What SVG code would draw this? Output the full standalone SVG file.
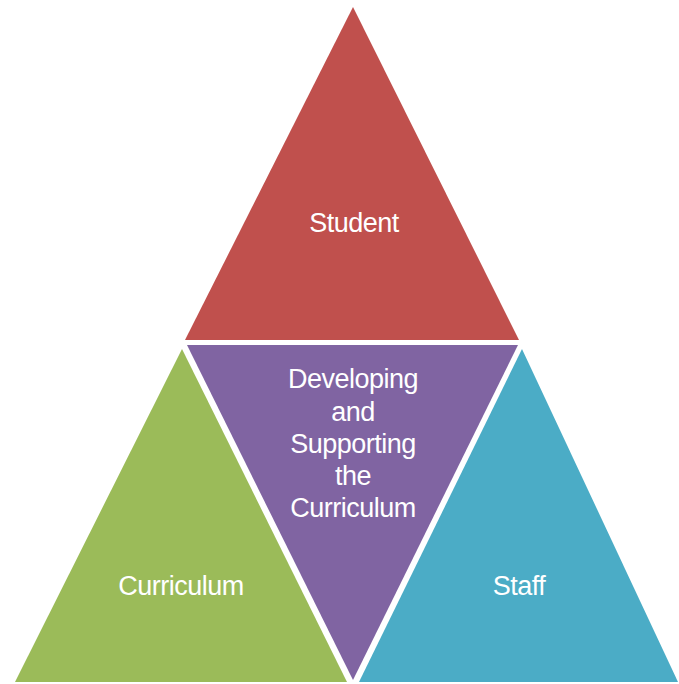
<svg xmlns="http://www.w3.org/2000/svg" width="679" height="684" viewBox="0 0 679 684">
  <style>
    .lbl { font-family: "Liberation Sans", Arial, sans-serif; font-size: 27px; fill: #ffffff; text-anchor: middle; letter-spacing: -0.5px; }
    .red { fill: #C0504D; }
    .purple { fill: #8064A2; }
    .green { fill: #9BBB59; }
    .blue { fill: #4BACC6; }
  </style>
  <rect x="0" y="0" width="679" height="684" fill="#ffffff"/>
  <g id="student">
    <polygon class="red" points="353,7 185,340 519,340"/>
    <text class="lbl" x="354" y="232">Student</text>
  </g>
  <g id="developing">
    <polygon class="purple" points="187,345 518,345 353,680"/>
    <text class="lbl" x="353" y="388">Developing</text>
    <text class="lbl" x="353" y="421">and</text>
    <text class="lbl" x="353" y="453">Supporting</text>
    <text class="lbl" x="353" y="485">the</text>
    <text class="lbl" x="353" y="517">Curriculum</text>
  </g>
  <g id="curriculum">
    <polygon class="green" points="182,349 15,682 347,682"/>
    <text class="lbl" x="181" y="595">Curriculum</text>
  </g>
  <g id="staff">
    <polygon class="blue" points="522,349 359,682 678,682"/>
    <text class="lbl" x="519" y="595">Staff</text>
  </g>
</svg>
